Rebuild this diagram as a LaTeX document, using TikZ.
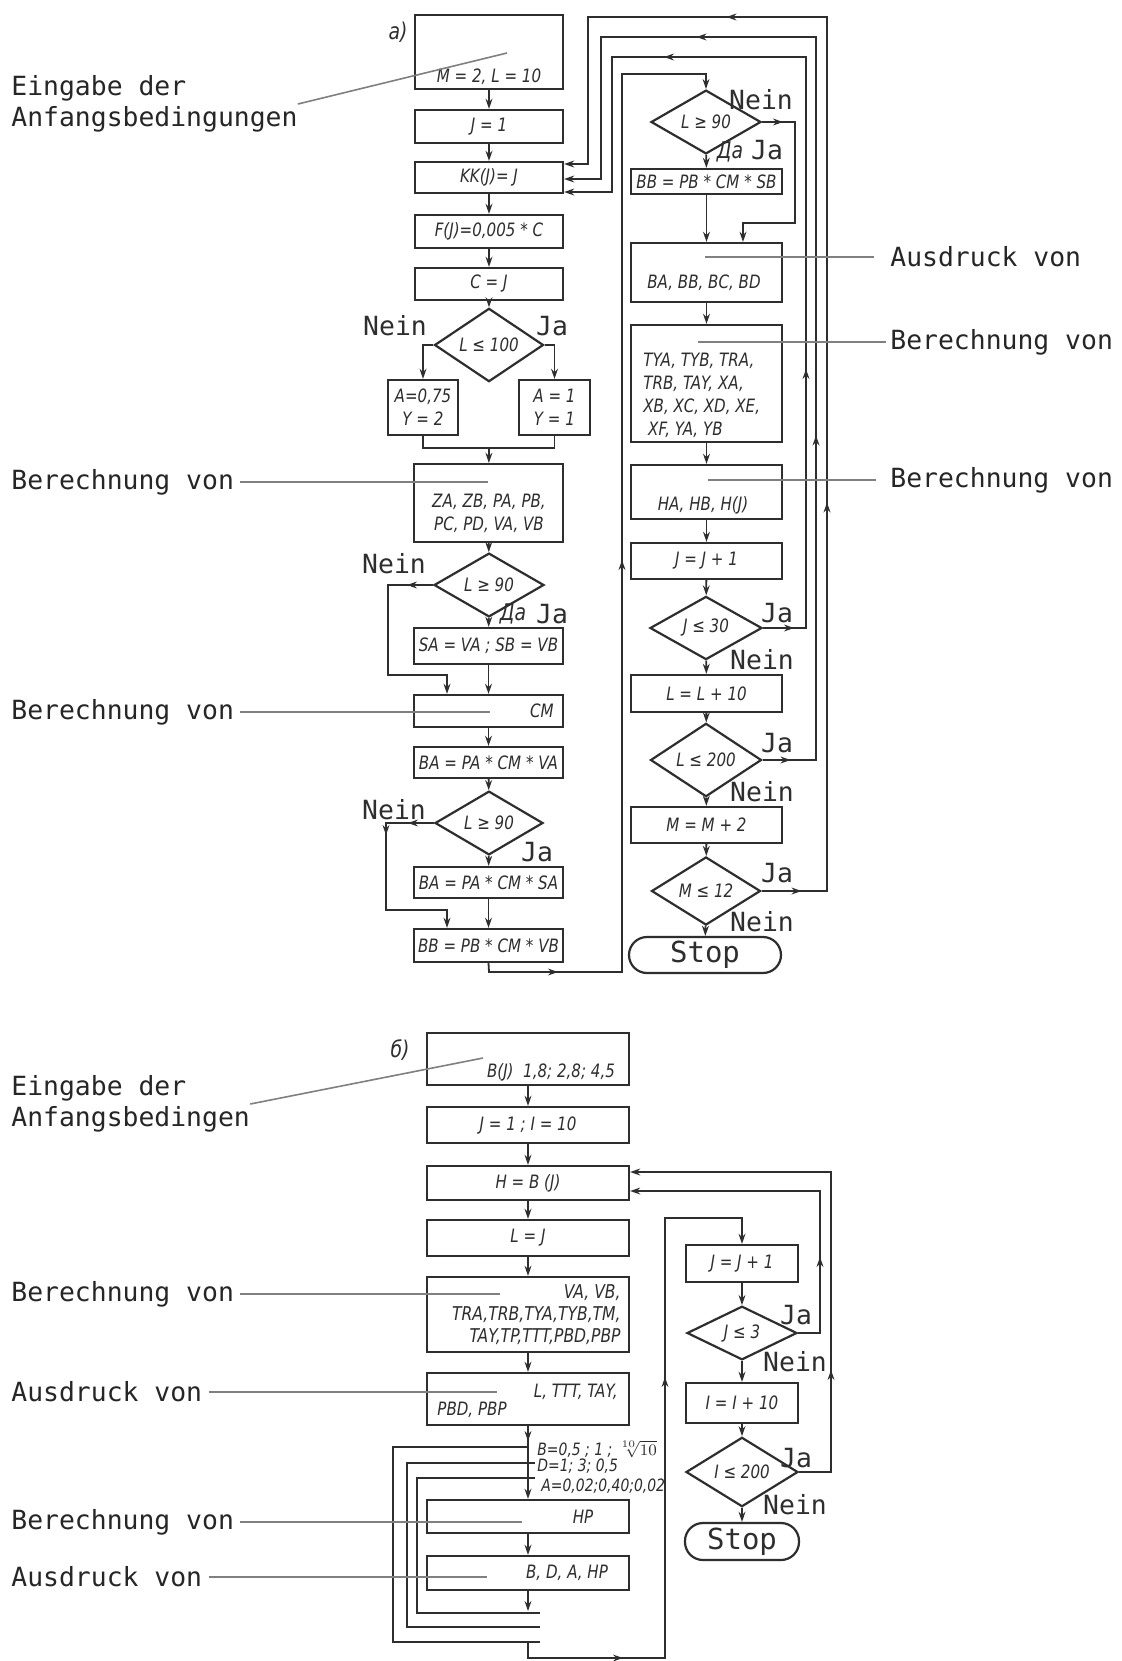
\documentclass[tikz,border=0pt]{standalone}
\usepackage{fontspec}
\usetikzlibrary{shapes.geometric,arrows.meta,decorations.markings,calc}
\newfontfamily\gostfont[FakeStretch=0.82]{DejaVu Sans}
\newfontfamily\monofont{DejaVu Sans Mono}
\newcommand\gtxt{\gostfont\itshape\fontsize{9.2}{11.5}\selectfont}
\newcommand\gsmall{\gostfont\itshape\fontsize{8.5}{10}\selectfont}
\newcommand\gbig{\gostfont\itshape\fontsize{11.5}{13}\selectfont}
\newcommand\mtxt{\monofont\fontsize{13.2}{15.5}\selectfont}
\newcommand\mstop{\monofont\fontsize{14.5}{16}\selectfont}
\definecolor{ink}{gray}{0.18}
\definecolor{lblc}{gray}{0.5}
% box from pixel corners: name, x1, y1, x2, y2, text
\newcommand\pbox[6]{\node[box, minimum width={(#4-#2)/2}, minimum height={(#5-#3)/2}] (#1) at ({(#2+#4)/2},{(#3+#5)/2}) {#6};}
\begin{document}
\begin{tikzpicture}[x=0.5pt,y=-0.5pt,
  box/.style={draw=ink, line width=1.1pt, inner sep=0pt, font=\gtxt, text=ink, align=center},
  dia/.style={diamond, draw=ink, line width=1.1pt, inner sep=0pt, font=\gtxt, text=ink},
  stopbox/.style={draw=ink, line width=1.1pt, rounded corners=9pt, inner sep=0pt, font=\mstop, text=ink},
  txt/.style={inner sep=0pt, font=\gtxt, text=ink},
  yn/.style={inner sep=0pt, font=\mtxt, text=ink},
  lab/.style={inner sep=0pt, font=\mtxt, text=black!85, align=left},
  conn/.style={draw=ink, line width=0.9pt},
  arr/.style={conn, -{Stealth[length=5pt,width=3.4pt]}},
  marr/.style={postaction={decorate,decoration={markings,mark=at position #1 with {\arrow{Stealth[length=5pt,width=3.4pt]}}}}},
  lline/.style={draw=lblc, line width=0.8pt},
]
\useasboundingbox[fill=white] (0,0) rectangle (1121,1661);

% ================= a) left column =================
\node[txt, font=\gbig] (alab) at (398,32) {а)};
\pbox{a1}{415}{15}{563}{89}{}
\node[txt] (a1t) at (489,77) {M = 2, L = 10};
\pbox{a2}{415}{110}{563}{143}{J = 1}
\pbox{kk}{415}{162}{563}{193}{KK(J)= J}
\pbox{a4}{415}{215}{563}{248}{F(J)=0,005 * C}
\pbox{a5}{415}{268}{563}{300}{C = J}
\node[dia, minimum width=54.5pt, minimum height=23pt] (d1) at (489,345) {L ≤ 100};
\pbox{bl}{388}{380}{458}{435}{A=0,75\\Y = 2}
\pbox{br}{519}{380}{590}{435}{A = 1\\Y = 1}
\coordinate (m1) at (489,448);
\pbox{za}{414}{464}{563}{542}{}
\node[txt, align=center] (zat) at (489,513) {ZA, ZB, PA, PB,\\PC, PD, VA, VB};
\node[dia, minimum width=55pt, minimum height=22.5pt] (d2) at (489,585) {L ≥ 90};
\pbox{sa}{414}{628}{563}{664}{SA = VA ; SB = VB}
\pbox{cm}{414}{695}{563}{727}{}
\node[txt, anchor=east] (cmt) at (554,711) {CM};
\pbox{ba1}{414}{747}{563}{778}{BA = PA * CM * VA}
\node[dia, minimum width=54pt, minimum height=23pt] (d3) at (489,823) {L ≥ 90};
\pbox{ba2}{414}{867}{563}{898}{BA = PA * CM * SA}
\pbox{bb1}{414}{929}{563}{962}{BB = PB * CM * VB}

% ================= a) right column =================
\node[dia, minimum width=55pt, minimum height=23.5pt] (d4) at (706,122) {L ≥ 90};
\pbox{bb2}{631}{169}{782}{194}{BB = PB * CM * SB}
\pbox{bx}{631}{243}{782}{302}{}
\node[txt] (bxt) at (704,283) {BA, BB, BC, BD};
\pbox{ty}{631}{325}{782}{442}{}
\node[txt, align=left, anchor=west] (tyt) at (643,395) {TYA, TYB, TRA,\\TRB, TAY, XA,\\XB, XC, XD, XE,\\\ XF, YA, YB};
\pbox{ha}{631}{465}{782}{519}{}
\node[txt] (hat) at (703,505) {HA, HB, H(J)};
\pbox{jj}{631}{543}{782}{579}{J = J + 1}
\node[dia, minimum width=56pt, minimum height=23pt] (d5) at (706,628) {J ≤ 30};
\pbox{ll}{631}{675}{782}{712}{L = L + 10}
\node[dia, minimum width=55.5pt, minimum height=23pt] (d6) at (706,760) {L ≤ 200};
\pbox{mm}{631}{807}{782}{843}{M = M + 2}
\node[dia, minimum width=54.5pt, minimum height=23.5pt] (d7) at (706,891) {M ≤ 12};
\node[stopbox, minimum width=76pt, minimum height=18pt] (stop1) at (705,955) {Stop};

% Ja / Nein labels a)
\node[yn] (y1) at (395,326) {Nein};
\node[yn] (y2) at (552,326) {Ja};
\node[yn] (y3) at (394,564) {Nein};
\node[txt, font=\gbig] (y4) at (513,614) {Да};
\node[yn] (y5) at (552,614) {Ja};
\node[yn] (y6) at (394,810) {Nein};
\node[yn] (y7) at (537,852) {Ja};
\node[yn] (y8) at (761,100) {Nein};
\node[txt, font=\gbig] (y9) at (730,152) {Да};
\node[yn] (y10) at (767,150) {Ja};
\node[yn] (y11) at (777,613) {Ja};
\node[yn] (y12) at (762,660) {Nein};
\node[yn] (y13) at (777,743) {Ja};
\node[yn] (y14) at (762,792) {Nein};
\node[yn] (y15) at (777,873) {Ja};
\node[yn] (y16) at (762,922) {Nein};

% connectors a) left
\draw[arr] (a1) -- (a2);
\draw[arr] (a2) -- (kk);
\draw[arr] (kk) -- (a4);
\draw[arr] (a4) -- (a5);
\draw[arr] (a5) -- (d1);
\draw[arr] (d1.west) -| (bl.north);
\draw[arr] (d1.east) -| (br.north);
\draw[conn] (bl.south) |- (m1) -| (br.south);
\draw[arr] (m1) -- (za);
\draw[arr] (za) -- (d2);
\draw[arr] (d2) -- (sa);
\coordinate (n2a) at (388,585);
\coordinate (n2b) at (447,675);
\draw[arr, marr=13pt] (d2.west) -- (n2a) |- (n2b) -- (n2b |- cm.north);
\draw[arr] (sa) -- (cm);
\draw[arr] (cm) -- (ba1);
\draw[arr] (ba1) -- (d3);
\draw[arr] (d3) -- (ba2);
\draw[arr] (ba2) -- (bb1);
\coordinate (n3a) at (386,823);
\coordinate (n3b) at (447,910);
\draw[arr, marr=13pt, marr=30pt] (d3.west) -- (n3a) |- (n3b) -- (n3b |- bb1.north);
\coordinate (e1) at (489,972);
\coordinate (e2) at (622,972);
\coordinate (e3) at (622,74);
\coordinate (e4) at (706,74);
\draw[arr, marr=39pt, marr=277pt] (bb1.south) -- (e1) -- (e2) -- (e3) -- (e4) -- (d4.north);

% connectors a) right
\draw[arr] (d4) -- (bb2);
\draw[arr] (bb2) -- (bb2 |- bx.north);
\coordinate (f1) at (795,122);
\coordinate (f2) at (795,223);
\coordinate (f3) at (743,223);
\draw[arr, marr=10.5pt] (d4.east) -- (f1) -- (f2) -- (f3) -- (f3 |- bx.north);
\draw[arr] (bx) -- (ty);
\draw[arr] (ty) -- (ha);
\draw[arr] (ha) -- (jj);
\draw[arr] (jj) -- (d5);
\draw[arr] (d5) -- (ll);
\draw[arr] (ll) -- (d6);
\draw[arr] (d6) -- (mm);
\draw[arr] (mm) -- (d7);
\draw[arr] (d7) -- (stop1);
\coordinate (g1) at (806,628);
\coordinate (g2) at (806,57);
\coordinate (g3) at (612,57);
\coordinate (g4) at (612,192);
\draw[arr, marr=15.5pt, marr=151pt, marr=378pt] (d5.east) -- (g1) -- (g2) -- (g3) -- (g4) -- (g4 -| kk.east);
\coordinate (h1) at (816,760);
\coordinate (h2) at (816,37);
\coordinate (h3) at (601,37);
\coordinate (h4) at (601,179);
\draw[arr, marr=14pt, marr=189pt, marr=448pt] (d6.east) -- (h1) -- (h2) -- (h3) -- (h4) -- (h4 -| kk.east);
\coordinate (k1) at (827,891);
\coordinate (k2) at (827,17);
\coordinate (k3) at (588,17);
\coordinate (k4) at (588,164);
\draw[arr, marr=20pt, marr=227pt, marr=520pt] (d7.east) -- (k1) -- (k2) -- (k3) -- (k4) -- (k4 -| kk.east);

% labels a)
\node[lab, anchor=west] (L1) at (11,104) {Eingabe der\\Anfangsbedingungen};
\coordinate (L1t) at (507,53);
\draw[lline] (L1.east) -- (L1t);
\node[lab, anchor=west] (L2) at (11,482) {Berechnung von};
\coordinate (L2t) at (488,482);
\draw[lline] ([xshift=3pt]L2.east) -- (L2t);
\node[lab, anchor=west] (L3) at (11,712) {Berechnung von};
\coordinate (L3t) at (490,712);
\draw[lline] ([xshift=3pt]L3.east) -- (L3t);
\node[lab, anchor=west] (R1) at (890,257) {Ausdruck von};
\coordinate (R1t) at (705,257);
\draw[lline] (R1t) -- ([xshift=-8pt]R1.west);
\node[lab, anchor=west] (R2) at (890,342) {Berechnung von};
\coordinate (R2t) at (698,342);
\draw[lline] (R2t) -- ([xshift=-2pt]R2.west);
\node[lab, anchor=west] (R3) at (890,480) {Berechnung von};
\coordinate (R3t) at (708,480);
\draw[lline] (R3t) -- ([xshift=-7pt]R3.west);

% ================= b) =================
\node[txt, font=\gbig] (blab) at (400,1050) {б)};
\pbox{b1}{427}{1033}{629}{1085}{}
\node[txt] (b1t) at (551,1072) {B(J)\ \ 1,8; 2,8; 4,5};
\pbox{b2}{427}{1107}{629}{1143}{J = 1 ; I = 10}
\pbox{hb}{427}{1166}{629}{1200}{H = B (J)}
\pbox{b4}{427}{1220}{629}{1256}{L = J}
\pbox{b5}{427}{1277}{629}{1352}{}
\node[txt, align=right, anchor=east, font=\gostfont\itshape\fontsize{9.5}{11}\selectfont] (b5t) at (621,1315) {VA, VB,\\TRA,TRB,TYA,TYB,TM,\\TAY,TP,TTT,PBD,PBP};
\pbox{b6}{427}{1373}{629}{1425}{}
\node[txt, anchor=east] (b6a) at (618,1392) {L, TTT, TAY,};
\node[txt, anchor=west] (b6b) at (437,1410) {PBD, PBP};
\pbox{b7}{427}{1500}{629}{1533}{}
\node[txt] (b7t) at (583,1517) {HP};
\pbox{b8}{427}{1556}{629}{1590}{}
\node[txt] (b8t) at (567,1573) {B, D, A, HP};
\node[txt, anchor=west, font=\gsmall] (lb) at (537,1449) {B=0,5 ; 1 ; $\sqrt[10]{10}$};
\node[txt, anchor=west, font=\gsmall] (ld) at (537,1466) {D=1; 3; 0,5};
\node[txt, anchor=west, font=\gsmall] (la) at (541,1486) {A=0,02;0,40;0,02};

\pbox{b9}{686}{1245}{798}{1282}{J = J + 1}
\node[dia, minimum width=55pt, minimum height=23.5pt] (d8) at (742,1333) {J ≤ 3};
\pbox{b10}{686}{1383}{798}{1423}{I = I + 10}
\node[dia, minimum width=56pt, minimum height=23pt] (d9) at (742,1472) {I ≤ 200};
\node[stopbox, minimum width=57pt, minimum height=18.5pt] (stop2) at (742,1541.5) {Stop};

\node[yn] (z1) at (796,1315) {Ja};
\node[yn] (z2) at (795,1362) {Nein};
\node[yn] (z3) at (796,1458) {Ja};
\node[yn] (z4) at (795,1505) {Nein};

% connectors b)
\draw[arr] (b1) -- (b2);
\draw[arr] (b2) -- (hb);
\draw[arr] (hb) -- (b4);
\draw[arr] (b4) -- (b5);
\draw[arr] (b5) -- (b6);
\draw[arr, marr=7.5pt] (b6) -- (b7);
\draw[arr] (b7) -- (b8);
\coordinate (q) at (528,1611);
\draw[arr] (b8) -- (q);
% cycle lines
\coordinate (A1) at (540,1613); \coordinate (A2) at (417,1613);
\coordinate (A3) at (417,1478); \coordinate (A4) at (535,1478);
\draw[conn] (A1) -- (A2) -- (A3) -- (A4);
\coordinate (D1) at (540,1627); \coordinate (D2) at (407,1627);
\coordinate (D3) at (407,1463); \coordinate (D4) at (535,1463);
\draw[conn] (D1) -- (D2) -- (D3) -- (D4);
\coordinate (B1) at (540,1642); \coordinate (B2) at (393,1642);
\coordinate (B3) at (393,1447); \coordinate (B4) at (528,1447);
\draw[conn] (B1) -- (B2) -- (B3) -- (B4);
\coordinate (x1) at (528,1642);
\coordinate (x2) at (528,1658);
\coordinate (x3) at (665,1658);
\coordinate (x4) at (665,1218);
\coordinate (x5) at (742,1218);
\draw[arr, marr=55.5pt, marr=217pt] (x1) -- (x2) -- (x3) -- (x4) -- (x5) -- (b9);
\draw[arr] (b9) -- (d8);
\draw[arr] (d8) -- (b10);
\draw[arr] (b10) -- (d9);
\draw[arr] (d9) -- (stop2);
\coordinate (r1) at (820,1333);
\coordinate (r2) at (820,1191);
\draw[arr, marr=49pt] (d8.east) -- (r1) -- (r2) -- (r2 -| hb.east);
\coordinate (s1) at (831,1472);
\coordinate (s2) at (831,1172);
\draw[arr, marr=67pt] (d9.east) -- (s1) -- (s2) -- (s2 -| hb.east);

% labels b)
\node[lab, anchor=west] (L4) at (11,1104) {Eingabe der\\Anfangsbedingen};
\coordinate (L4t) at (483,1058);
\draw[lline] (L4.east) -- (L4t);
\node[lab, anchor=west] (L5) at (11,1294) {Berechnung von};
\coordinate (L5t) at (500,1294);
\draw[lline] ([xshift=3pt]L5.east) -- (L5t);
\node[lab, anchor=west] (L6) at (11,1392) {Ausdruck von};
\coordinate (L6t) at (497,1392);
\draw[lline] ([xshift=3pt]L6.east) -- (L6t);
\node[lab, anchor=west] (L7) at (11,1522) {Berechnung von};
\coordinate (L7t) at (522,1522);
\draw[lline] ([xshift=3pt]L7.east) -- (L7t);
\node[lab, anchor=west] (L8) at (11,1577) {Ausdruck von};
\coordinate (L8t) at (487,1577);
\draw[lline] ([xshift=3pt]L8.east) -- (L8t);
\end{tikzpicture}
\end{document}
